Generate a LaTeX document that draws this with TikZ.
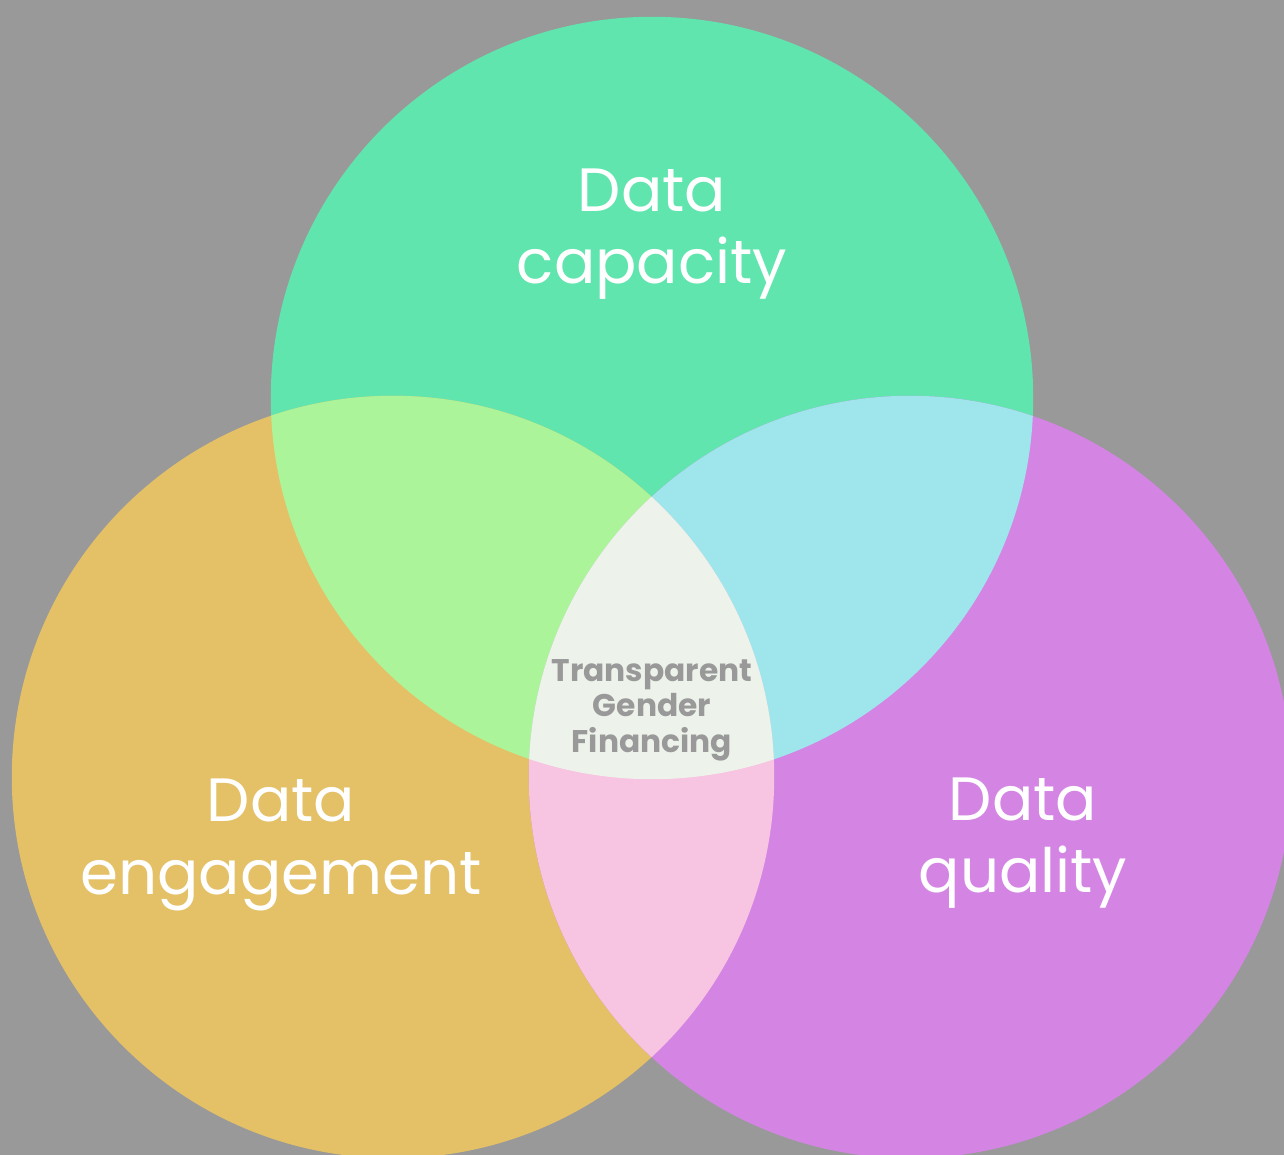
\documentclass[tikz,border=0pt]{standalone}
\usepackage{fontspec}
\setmainfont{Poppins}
\usepackage{tikz}
\definecolor{bggray}{HTML}{999999}
\definecolor{capcol}{HTML}{61E5AE}
\definecolor{engcol}{HTML}{E4C067}
\definecolor{qualcol}{HTML}{D485E4}
\definecolor{capeng}{HTML}{ACF49A}
\definecolor{capqual}{HTML}{9EE6EC}
\definecolor{engqual}{HTML}{F7C4E1}
\definecolor{allcol}{HTML}{EDF3EA}
\tikzset{
  biglabel/.style={text=white,align=center,inner sep=0pt,font=\fontsize{17.4}{20.6}\selectfont},
  midlabel/.style={text=bggray,align=center,inner sep=0pt,font=\bfseries\fontsize{8.9}{10.1}\selectfont}
}

\begin{document}
\begin{tikzpicture}[x=0.01cm,y=-0.01cm]
\fill[bggray] (0,0) rectangle (1284,1155);
\useasboundingbox (0,0) rectangle (1284,1155);
\coordinate (capc) at (652,398);
\coordinate (engc) at (393,777);
\coordinate (qualc) at (910,777);
\fill[capcol] (capc) circle[radius=3.81cm];
\fill[engcol] (engc) circle[radius=3.81cm];
\fill[qualcol] (qualc) circle[radius=3.81cm];
\begin{scope}
\clip (capc) circle[radius=3.81cm];
\fill[capeng] (engc) circle[radius=3.81cm];
\fill[capqual] (qualc) circle[radius=3.81cm];
\end{scope}
\begin{scope}
\clip (engc) circle[radius=3.81cm];
\fill[engqual] (qualc) circle[radius=3.81cm];
\clip (qualc) circle[radius=3.81cm];
\fill[allcol] (capc) circle[radius=3.81cm];
\end{scope}
\node[biglabel] (cap) at (652,234) {Data\\capacity};
\node[biglabel] (eng) at (281,845) {Data\\engagement};
\node[biglabel] (qual) at (1023,843) {Data\\quality};
\node[midlabel] (tgf) at (652,710) {Transparent\\Gender\\Financing};
\end{tikzpicture}
\end{document}
